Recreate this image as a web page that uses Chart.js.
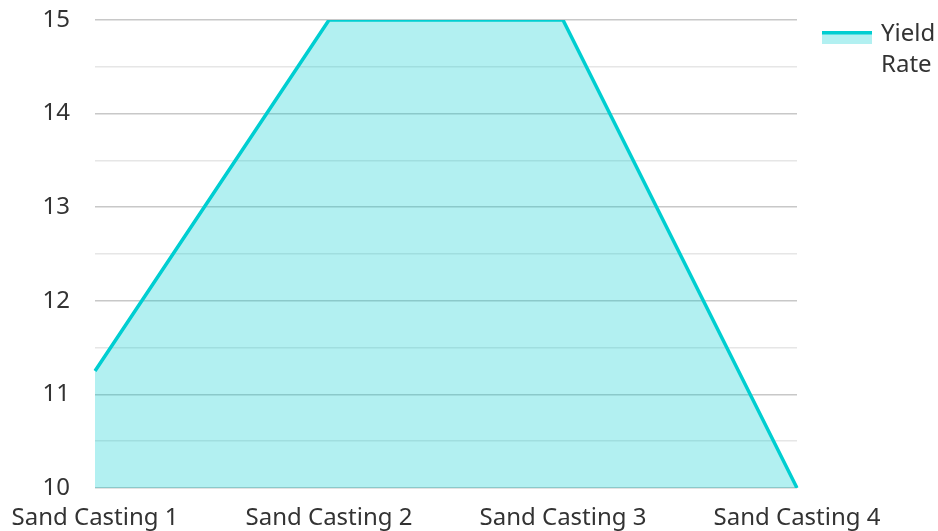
<!DOCTYPE html>
<html>
<head>
<meta charset="utf-8">
<script src="https://cdn.jsdelivr.net/npm/chart.js@4/dist/chart.umd.min.js"></script>
<style>
  html, body { margin: 0; padding: 0; background: #fff; }
  #wrap { width: 938px; height: 531px; }
</style>
</head>
<body>
<div id="wrap"><canvas id="chart" width="938" height="531"></canvas></div>
<script>
const categories = ['Sand Casting 1', 'Sand Casting 2', 'Sand Casting 3', 'Sand Casting 4'];
const yieldRate = [11.25, 15, 15, 10];
const seriesName = ['Yield', 'Rate'];

const LINE = 'rgb(0,206,209)';
const FILL = 'rgba(0,206,209,0.3)';
const FONT = '"Noto Sans", "Open Sans", sans-serif';
const TEXT = '#333333';
const SIZE = 24;
const CLEAR = 'rgba(0,0,0,0)';

// Legend drawn on the right: line swatch over a filled band, wrapped name
const sideLegend = {
  id: 'sideLegend',
  afterDraw(chart) {
    const ctx = chart.ctx;
    const x = 822, w = 50;
    ctx.save();
    ctx.fillStyle = FILL;
    ctx.fillRect(x, 34, w, 10);
    ctx.fillStyle = LINE;
    ctx.fillRect(x, 31, w, 3.5);
    ctx.fillStyle = TEXT;
    ctx.font = SIZE + 'px ' + FONT;
    ctx.textBaseline = 'middle';
    ctx.textAlign = 'left';
    seriesName.forEach((t, i) => ctx.fillText(t, 881, 34 + i * 31));
    ctx.restore();
  }
};

new Chart(document.getElementById('chart'), {
  type: 'line',
  data: {
    labels: categories,
    datasets: [{
      label: seriesName.join(' '),
      data: yieldRate,
      borderColor: LINE,
      backgroundColor: FILL,
      borderWidth: 3.5,
      fill: 'start',
      tension: 0,
      pointRadius: 0,
      pointHoverRadius: 0
    }]
  },
  options: {
    responsive: false,
    animation: false,
    layout: { padding: { top: 20, right: 141, left: 0, bottom: 0 } },
    plugins: { legend: { display: false }, tooltip: { enabled: false } },
    scales: {
      x: {
        offset: false,
        grid: {
          display: true,
          drawOnChartArea: false,
          drawTicks: true,
          tickLength: 13,
          color: CLEAR,
          tickColor: CLEAR
        },
        border: { display: false },
        ticks: { color: TEXT, font: { family: FONT, size: SIZE }, padding: 3, maxRotation: 0, autoSkip: false },
        afterFit(scale) { scale.height = 43; }
      },
      y: {
        min: 10,
        max: 15,
        grid: {
          drawTicks: true,
          tickLength: 25,
          tickColor: CLEAR,
          color: (c) => (Number.isInteger(c.tick.value) ? '#c8c8c8' : '#e6e6e6'),
          lineWidth: 1.5
        },
        border: { display: false },
        ticks: {
          stepSize: 0.5,
          padding: 0,
          color: TEXT,
          font: { family: FONT, size: SIZE },
          callback: (v) => (Number.isInteger(v) ? v : '')
        },
        afterFit(scale) { scale.width = 95; }
      }
    }
  },
  plugins: [sideLegend]
});
</script>
</body>
</html>
